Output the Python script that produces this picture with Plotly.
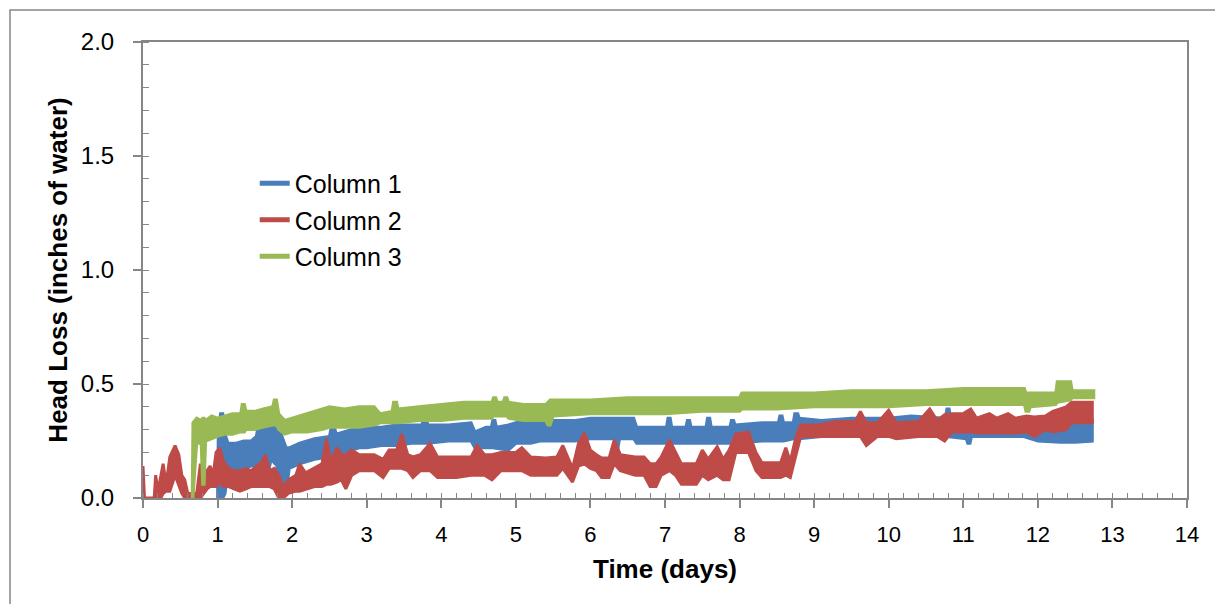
import plotly.graph_objects as go

# Head loss across three filter columns over the run (days vs inches of water).
# Each series is logged densely, so it is stored as the lower and upper envelope
# of the recorded trace at each time point.

col1_t = [1.00, 1.01, 1.04, 1.07, 1.10, 1.14, 1.25, 1.35, 1.45, 1.52, 1.55, 1.57, 1.60, 1.65,
          1.67, 1.72, 1.77, 1.79, 1.83, 1.88, 1.92, 1.96, 2.10, 2.30, 2.50, 2.53, 2.56, 2.59,
          2.70, 2.80, 2.90, 3.00, 3.20, 3.40, 3.60, 3.74, 3.76, 3.80, 3.82, 4.10, 4.40, 4.45,
          4.60, 4.67, 4.69, 4.72, 4.74, 4.90, 5.00, 5.20, 5.32, 5.34, 5.37, 5.39, 5.80, 6.00,
          6.32, 6.34, 6.37, 6.39, 6.58, 6.62, 7.02, 7.04, 7.07, 7.09, 7.28, 7.30, 7.33, 7.35,
          7.55, 7.57, 7.60, 7.62, 7.87, 7.89, 7.92, 7.94, 8.30, 8.52, 8.54, 8.57, 8.59, 8.72,
          8.74, 8.78, 8.80, 9.10, 9.50, 10.00, 10.30, 10.76, 10.78, 10.81, 10.83, 11.04, 11.06,
          11.09, 11.11, 11.80, 12.00, 12.30, 12.50, 12.73]
col1_lo = [0.00, 0.00, 0.00, 0.00, 0.02, 0.12, 0.12, 0.13, 0.14, 0.14, 0.10, 0.10, 0.15, 0.10,
           0.10, 0.17, 0.15, 0.15, 0.05, 0.00, 0.02, 0.13, 0.15, 0.17, 0.18, 0.18, 0.18, 0.19,
           0.20, 0.21, 0.22, 0.22, 0.23, 0.23, 0.24, 0.24, 0.24, 0.24, 0.24, 0.25, 0.25, 0.22,
           0.22, 0.22, 0.22, 0.22, 0.22, 0.21, 0.24, 0.24, 0.25, 0.25, 0.25, 0.25, 0.25, 0.26,
           0.26, 0.22, 0.22, 0.26, 0.26, 0.24, 0.24, 0.24, 0.24, 0.24, 0.24, 0.24, 0.24, 0.24,
           0.24, 0.24, 0.24, 0.24, 0.24, 0.24, 0.24, 0.24, 0.25, 0.25, 0.25, 0.25, 0.25, 0.26,
           0.26, 0.26, 0.26, 0.27, 0.27, 0.27, 0.27, 0.27, 0.27, 0.27, 0.27, 0.26, 0.24,
           0.24, 0.27, 0.27, 0.25, 0.245, 0.245, 0.25]
col1_hi = [0.00, 0.30, 0.37, 0.37, 0.28, 0.24, 0.24, 0.25, 0.25, 0.27, 0.33, 0.33, 0.28, 0.34,
           0.34, 0.30, 0.34, 0.34, 0.30, 0.25, 0.22, 0.22, 0.24, 0.26, 0.27, 0.32, 0.32, 0.28,
           0.29, 0.30, 0.30, 0.31, 0.31, 0.32, 0.32, 0.32, 0.35, 0.35, 0.32, 0.32, 0.33, 0.29,
           0.31, 0.31, 0.34, 0.34, 0.31, 0.32, 0.33, 0.34, 0.34, 0.37, 0.37, 0.34, 0.34, 0.35,
           0.35, 0.35, 0.35, 0.35, 0.35, 0.31, 0.31, 0.35, 0.35, 0.31, 0.31, 0.34, 0.34, 0.31,
           0.31, 0.35, 0.35, 0.31, 0.31, 0.34, 0.34, 0.32, 0.33, 0.33, 0.36, 0.36, 0.33, 0.33,
           0.37, 0.37, 0.35, 0.34, 0.35, 0.35, 0.36, 0.35, 0.39, 0.39, 0.35, 0.34, 0.34,
           0.34, 0.34, 0.34, 0.34, 0.34, 0.33, 0.34]

col2_t = [0.00, 0.02, 0.15, 0.17, 0.20, 0.24, 0.27, 0.31, 0.36, 0.43, 0.48, 0.52, 0.56, 0.60,
          0.72, 0.77, 0.81, 0.86, 0.90, 0.94, 0.98, 1.03, 1.08, 1.15, 1.22, 1.30, 1.38, 1.45,
          1.52, 1.60, 1.64, 1.70, 1.76, 1.82, 1.88, 1.95, 2.05, 2.10, 2.18, 2.30, 2.40, 2.46,
          2.52, 2.60, 2.66, 2.72, 2.80, 2.90, 3.10, 3.22, 3.30, 3.40, 3.47, 3.55, 3.62, 3.72,
          3.85, 3.95, 4.20, 4.40, 4.48, 4.58, 4.68, 4.80, 5.00, 5.08, 5.20, 5.40, 5.55, 5.63,
          5.76, 5.84, 5.92, 6.00, 6.08, 6.15, 6.25, 6.32, 6.40, 6.60, 6.72, 6.80, 6.88, 6.95,
          7.06, 7.14, 7.22, 7.42, 7.50, 7.58, 7.70, 7.78, 7.86, 7.95, 8.12, 8.22, 8.30, 8.55,
          8.62, 8.68, 8.75, 8.82, 9.05, 9.30, 9.55, 9.62, 9.70, 9.85, 10.00, 10.10, 10.40, 10.55,
          10.65, 10.75, 10.85, 11.00, 11.10, 11.18, 11.35, 11.45, 11.60, 11.70, 11.85, 11.95,
          12.10, 12.20, 12.38, 12.45, 12.73]
col2_lo = [0.00, 0.00, 0.00, 0.00, 0.00, 0.00, 0.02, 0.03, 0.03, 0.10, 0.06, 0.02, 0.00, 0.00,
           0.00, 0.00, 0.02, 0.04, 0.05, 0.05, 0.05, 0.07, 0.05, 0.05, 0.04, 0.03, 0.04, 0.05,
           0.05, 0.05, 0.05, 0.05, 0.04, 0.00, 0.00, 0.02, 0.03, 0.03, 0.04, 0.05, 0.05, 0.06,
           0.06, 0.07, 0.08, 0.04, 0.10, 0.12, 0.12, 0.09, 0.13, 0.13, 0.13, 0.12, 0.09, 0.12,
           0.12, 0.09, 0.09, 0.10, 0.10, 0.10, 0.08, 0.12, 0.12, 0.12, 0.10, 0.10, 0.10, 0.13,
           0.07, 0.14, 0.15, 0.13, 0.12, 0.09, 0.09, 0.15, 0.12, 0.10, 0.10, 0.05, 0.05, 0.10,
           0.12, 0.10, 0.06, 0.06, 0.10, 0.08, 0.10, 0.08, 0.08, 0.20, 0.20, 0.12, 0.09, 0.09,
           0.10, 0.09, 0.18, 0.27, 0.27, 0.27, 0.27, 0.27, 0.23, 0.27, 0.27, 0.26, 0.27, 0.27,
           0.27, 0.25, 0.29, 0.29, 0.29, 0.285, 0.285, 0.285, 0.285, 0.285, 0.29, 0.27,
           0.30, 0.29, 0.30, 0.33, 0.33]
col2_hi = [0.14, 0.00, 0.00, 0.10, 0.03, 0.10, 0.15, 0.06, 0.18, 0.23, 0.19, 0.10, 0.08, 0.02,
           0.02, 0.15, 0.10, 0.12, 0.14, 0.10, 0.20, 0.22, 0.16, 0.13, 0.12, 0.12, 0.13, 0.12,
           0.14, 0.16, 0.19, 0.12, 0.13, 0.10, 0.05, 0.08, 0.10, 0.15, 0.11, 0.13, 0.15, 0.26,
           0.16, 0.22, 0.19, 0.19, 0.21, 0.19, 0.19, 0.17, 0.21, 0.21, 0.28, 0.19, 0.18, 0.19,
           0.24, 0.18, 0.18, 0.18, 0.23, 0.19, 0.19, 0.20, 0.20, 0.22, 0.18, 0.175, 0.18, 0.23,
           0.13, 0.24, 0.285, 0.21, 0.19, 0.175, 0.175, 0.255, 0.19, 0.18, 0.18, 0.15, 0.15, 0.18,
           0.255, 0.20, 0.15, 0.15, 0.21, 0.17, 0.225, 0.17, 0.21, 0.28, 0.29, 0.20, 0.155, 0.155,
           0.22, 0.16, 0.26, 0.32, 0.32, 0.335, 0.335, 0.38, 0.33, 0.33, 0.385, 0.33, 0.335, 0.39,
           0.34, 0.365, 0.37, 0.37, 0.39, 0.35, 0.37, 0.35, 0.37, 0.35, 0.36, 0.355,
           0.36, 0.38, 0.40, 0.42, 0.42]

col3_t = [0.66, 0.67, 0.72, 0.78, 0.80, 0.82, 0.84, 0.92, 1.00, 1.10, 1.20, 1.31, 1.33, 1.36,
          1.38, 1.50, 1.60, 1.74, 1.76, 1.79, 1.82, 1.90, 2.00, 2.20, 2.40, 2.50, 2.70, 2.90,
          3.10, 3.18, 3.34, 3.36, 3.40, 3.42, 3.70, 4.00, 4.30, 4.68, 4.70, 4.73, 4.75, 4.83,
          4.85, 4.88, 4.90, 5.10, 5.40, 5.43, 5.46, 5.50, 6.00, 6.50, 7.00, 7.50, 8.00, 8.03,
          8.50, 9.00, 9.50, 10.00, 10.50, 11.00, 11.50, 11.82, 11.84, 11.88, 11.90, 12.24,
          12.26, 12.44, 12.46, 12.75]
col3_lo = [0.00, 0.00, 0.24, 0.24, 0.06, 0.06, 0.25, 0.26, 0.27, 0.28, 0.28, 0.29, 0.29, 0.29,
           0.30, 0.30, 0.31, 0.32, 0.32, 0.32, 0.30, 0.28, 0.29, 0.29, 0.30, 0.31, 0.31, 0.31,
           0.32, 0.33, 0.33, 0.33, 0.33, 0.33, 0.34, 0.34, 0.35, 0.35, 0.36, 0.36, 0.36, 0.36,
           0.36, 0.36, 0.35, 0.34, 0.34, 0.32, 0.32, 0.36, 0.37, 0.37, 0.37, 0.38, 0.38, 0.39,
           0.39, 0.40, 0.40, 0.40, 0.41, 0.41, 0.41, 0.41, 0.38, 0.38, 0.40, 0.41,
           0.42, 0.43, 0.44, 0.44]
col3_hi = [0.00, 0.33, 0.35, 0.34, 0.35, 0.35, 0.34, 0.36, 0.35, 0.36, 0.37, 0.37, 0.41, 0.41,
           0.38, 0.38, 0.39, 0.40, 0.43, 0.43, 0.37, 0.34, 0.35, 0.37, 0.39, 0.40, 0.39, 0.40,
           0.40, 0.37, 0.38, 0.42, 0.42, 0.39, 0.40, 0.41, 0.42, 0.42, 0.44, 0.44, 0.42, 0.42,
           0.44, 0.44, 0.42, 0.41, 0.41, 0.42, 0.43, 0.43, 0.43, 0.44, 0.44, 0.44, 0.44, 0.46,
           0.46, 0.46, 0.47, 0.47, 0.47, 0.48, 0.48, 0.48, 0.46, 0.46, 0.46, 0.46,
           0.51, 0.51, 0.47, 0.47]

series_names = ["Column 1", "Column 2", "Column 3"]
series_colors = ["#4A7EBB", "#BE4B48", "#98B954"]

AXIS_GREY = "#868686"
FONT = "Liberation Sans, Arial, sans-serif"

fig = go.Figure()

# legend entries
for name, color in zip(series_names, series_colors):
    fig.add_trace(go.Scatter(x=[None], y=[None], mode="lines", name=name, legendgroup=name,
                             line=dict(color=color, width=5), showlegend=True))

# envelope bands: upper edge forward, lower edge back
envelopes = [(col1_t, col1_lo, col1_hi), (col2_t, col2_lo, col2_hi), (col3_t, col3_lo, col3_hi)]
for (t, lo, hi), name, color in zip(envelopes, series_names, series_colors):
    xs = list(t) + list(reversed(t))
    ys = list(hi) + list(reversed(lo))
    fig.add_trace(go.Scatter(x=xs, y=ys, mode="lines", fill="toself", fillcolor=color,
                             line=dict(color=color, width=3), name=name, legendgroup=name,
                             showlegend=False, hoverinfo="skip"))

xtick_font = dict(family=FONT, size=22, color="#000000")
ytick_font = dict(family=FONT, size=24, color="#000000")
title_font = dict(family=FONT, size=26, color="#000000")

fig.update_layout(
    width=1215, height=604,
    margin=dict(l=143, r=28, t=42, b=106),
    paper_bgcolor="white", plot_bgcolor="white",
    font=dict(family=FONT, color="#000000"),
    xaxis=dict(range=[0, 14], dtick=1, tick0=0, showgrid=False, zeroline=False,
               showline=True, linecolor=AXIS_GREY, linewidth=2, mirror=True,
               ticks="outside", ticklen=8, tickwidth=1.5, tickcolor=AXIS_GREY,
               tickfont=xtick_font, ticklabelstandoff=8,
               minor=dict(dtick=0.2, ticks="inside", ticklen=5, tickwidth=1, tickcolor=AXIS_GREY,
                          showgrid=False),
               title=dict(text="<b>Time (days)</b>", font=title_font, standoff=13)),
    yaxis=dict(range=[0, 2], dtick=0.5, tick0=0, tickformat=".1f", showgrid=False, zeroline=False,
               showline=True, linecolor=AXIS_GREY, linewidth=2, mirror=True,
               ticks="outside", ticklen=8, tickwidth=1.5, tickcolor=AXIS_GREY,
               tickfont=ytick_font, ticklabelstandoff=14,
               minor=dict(dtick=0.1, ticks="inside", ticklen=6, tickwidth=1, tickcolor=AXIS_GREY,
                          showgrid=False),
               title=dict(text="<b>Head Loss (inches of water)</b>", font=title_font, standoff=6)),
    # inner halves of the major ticks, so the major ticks cross the axis lines
    xaxis2=dict(overlaying="x", anchor="y", range=[0, 14], dtick=1, tick0=0,
                ticks="inside", ticklen=7, tickwidth=1.5, tickcolor=AXIS_GREY,
                showticklabels=False, showgrid=False, zeroline=False, showline=False),
    yaxis2=dict(overlaying="y", anchor="x", side="left", range=[0, 2], dtick=0.5, tick0=0,
                ticks="inside", ticklen=7, tickwidth=1.5, tickcolor=AXIS_GREY,
                showticklabels=False, showgrid=False, zeroline=False, showline=False),
    legend=dict(x=0.107, y=0.74, xanchor="left", yanchor="top",
                bgcolor="rgba(0,0,0,0)", borderwidth=0, traceorder="grouped",
                font=dict(family=FONT, size=25, color="#000000"),
                tracegroupgap=1),
    showlegend=True,
    shapes=[dict(type="rect", xref="paper", yref="paper",
                 x0=-0.1274, x1=1.06, y0=-0.35, y1=1.0702,
                 line=dict(color=AXIS_GREY, width=1.5), fillcolor="rgba(0,0,0,0)",
                 layer="below")],
)

fig.write_html("out.html")
